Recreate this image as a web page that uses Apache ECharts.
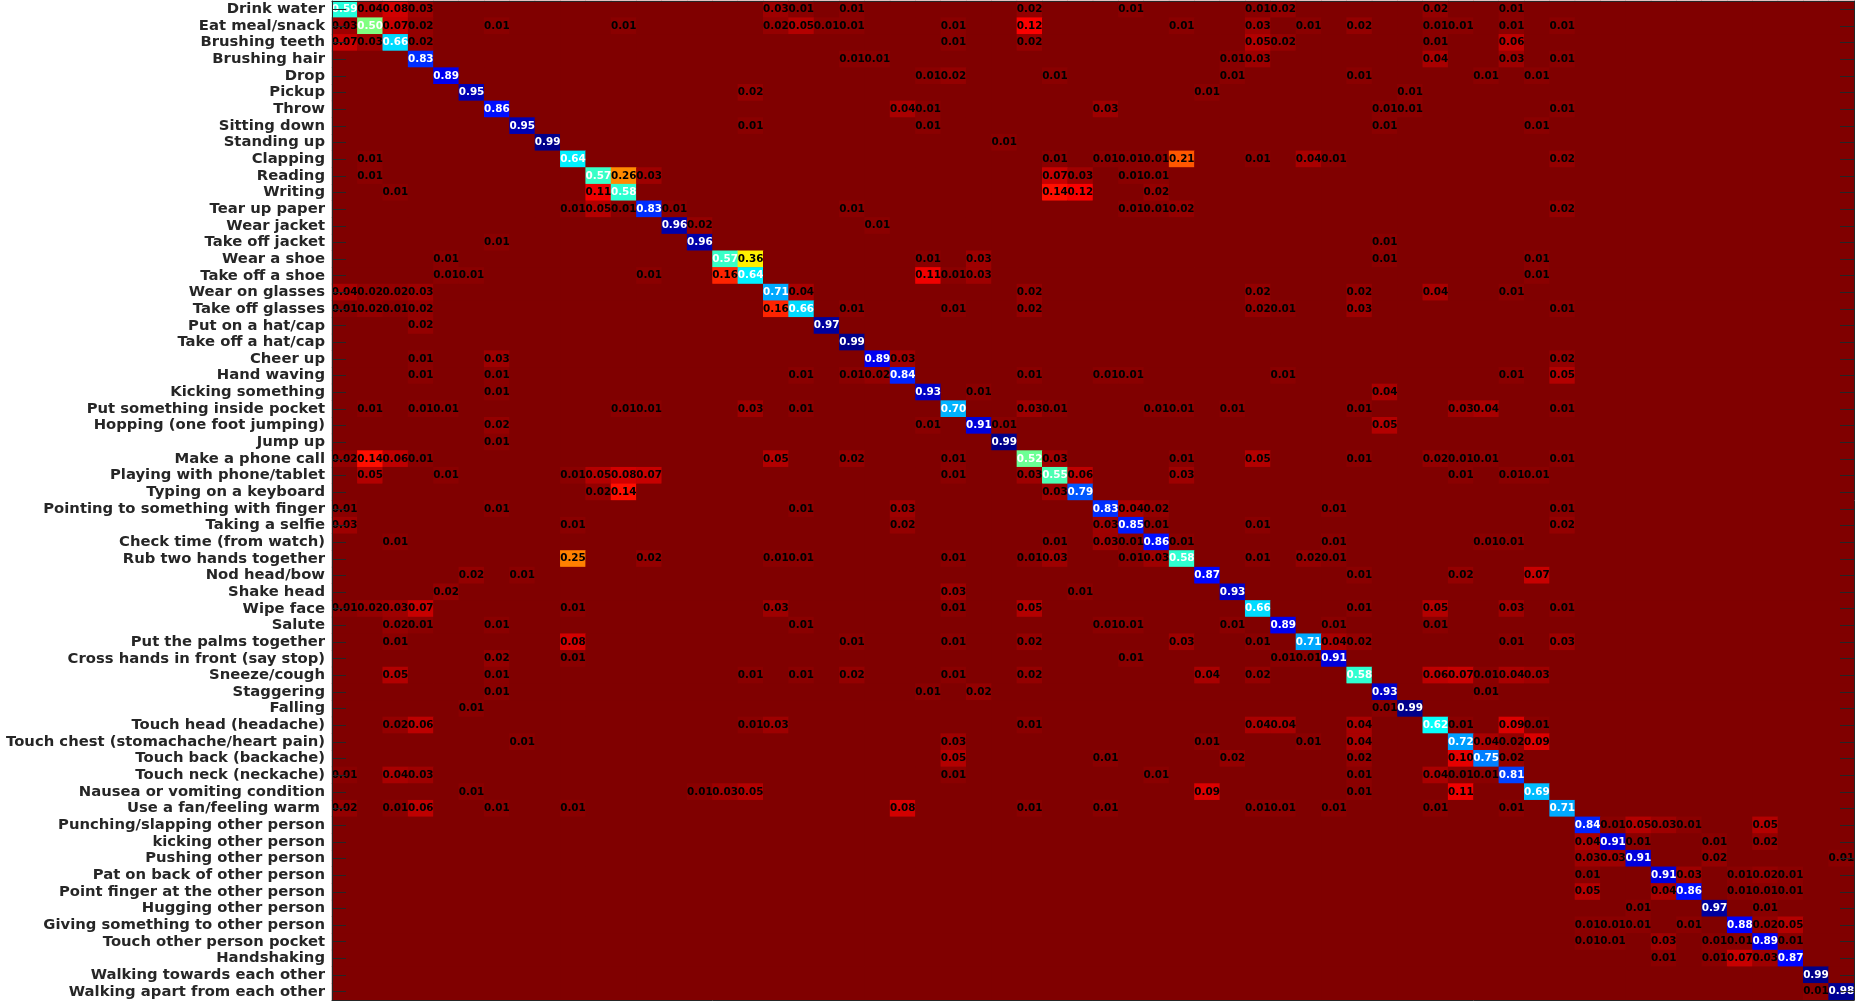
<!DOCTYPE html>
<html>
<head>
<meta charset="utf-8">
<title>Confusion matrix</title>
<script src="https://cdn.jsdelivr.net/npm/echarts@6/dist/echarts.min.js"></script>
<style>
  html, body { margin: 0; padding: 0; background: #fff; }
  #chart { width: 1855px; height: 1001px; }
</style>
</head>
<body>
<div id="chart"></div>
<script>
// class names, top to bottom (also the column order)
const classNames = [
  'Drink water', 'Eat meal/snack', 'Brushing teeth', 'Brushing hair', 'Drop', 'Pickup', 'Throw',
  'Sitting down', 'Standing up', 'Clapping', 'Reading', 'Writing', 'Tear up paper', 'Wear jacket',
  'Take off jacket', 'Wear a shoe', 'Take off a shoe', 'Wear on glasses', 'Take off glasses',
  'Put on a hat/cap', 'Take off a hat/cap', 'Cheer up', 'Hand waving', 'Kicking something',
  'Put something inside pocket', 'Hopping (one foot jumping)', 'Jump up', 'Make a phone call',
  'Playing with phone/tablet', 'Typing on a keyboard', 'Pointing to something with finger',
  'Taking a selfie', 'Check time (from watch)', 'Rub two hands together', 'Nod head/bow',
  'Shake head', 'Wipe face', 'Salute', 'Put the palms together', 'Cross hands in front (say stop)',
  'Sneeze/cough', 'Staggering', 'Falling', 'Touch head (headache)',
  'Touch chest (stomachache/heart pain)', 'Touch back (backache)', 'Touch neck (neckache)',
  'Nausea or vomiting condition', 'Use a fan/feeling warm ', 'Punching/slapping other person',
  'kicking other person', 'Pushing other person', 'Pat on back of other person',
  'Point finger at the other person', 'Hugging other person', 'Giving something to other person',
  'Touch other person pocket', 'Handshaking', 'Walking towards each other', 'Walking apart from each other'
];

// correct-class rates (diagonal)
const diagonal = [
  0.59, 0.50, 0.66, 0.83, 0.89, 0.95, 0.86, 0.95, 0.99, 0.64,
  0.57, 0.58, 0.83, 0.96, 0.96, 0.57, 0.64, 0.71, 0.66, 0.97,
  0.99, 0.89, 0.84, 0.93, 0.70, 0.91, 0.99, 0.52, 0.55, 0.79,
  0.83, 0.85, 0.86, 0.58, 0.87, 0.93, 0.66, 0.89, 0.71, 0.91,
  0.58, 0.93, 0.99, 0.62, 0.72, 0.75, 0.81, 0.69, 0.71, 0.84,
  0.91, 0.91, 0.91, 0.86, 0.97, 0.88, 0.89, 0.87, 0.99, 0.98
];

// confusions: [row (true), col (predicted), rate]
const offDiagonal = [
  [0,1,.04],[0,2,.08],[0,3,.03],[0,17,.03],[0,18,.01],[0,20,.01],[0,27,.02],[0,31,.01],[0,36,.01],[0,37,.02],[0,43,.02],[0,46,.01],
  [1,0,.03],[1,2,.07],[1,3,.02],[1,6,.01],[1,11,.01],[1,17,.02],[1,18,.05],[1,19,.01],[1,20,.01],[1,24,.01],[1,27,.12],[1,33,.01],[1,36,.03],[1,38,.01],[1,40,.02],[1,43,.01],[1,44,.01],[1,46,.01],[1,48,.01],
  [2,0,.07],[2,1,.03],[2,3,.02],[2,24,.01],[2,27,.02],[2,36,.05],[2,37,.02],[2,43,.01],[2,46,.06],
  [3,20,.01],[3,21,.01],[3,35,.01],[3,36,.03],[3,43,.04],[3,46,.03],[3,48,.01],
  [4,23,.01],[4,24,.02],[4,28,.01],[4,35,.01],[4,40,.01],[4,45,.01],[4,47,.01],
  [5,16,.02],[5,34,.01],[5,42,.01],
  [6,22,.04],[6,23,.01],[6,30,.03],[6,41,.01],[6,42,.01],[6,48,.01],
  [7,16,.01],[7,23,.01],[7,41,.01],[7,47,.01],
  [8,26,.01],
  [9,1,.01],[9,28,.01],[9,30,.01],[9,31,.01],[9,32,.01],[9,33,.21],[9,36,.01],[9,38,.04],[9,39,.01],[9,48,.02],
  [10,1,.01],[10,11,.26],[10,12,.03],[10,28,.07],[10,29,.03],[10,31,.01],[10,32,.01],
  [11,2,.01],[11,10,.11],[11,28,.14],[11,29,.12],[11,32,.02],
  [12,9,.01],[12,10,.05],[12,11,.01],[12,13,.01],[12,20,.01],[12,31,.01],[12,32,.01],[12,33,.02],[12,48,.02],
  [13,14,.02],[13,21,.01],
  [14,6,.01],[14,41,.01],
  [15,4,.01],[15,16,.36],[15,23,.01],[15,25,.03],[15,41,.01],[15,47,.01],
  [16,4,.01],[16,5,.01],[16,12,.01],[16,15,.16],[16,23,.11],[16,24,.01],[16,25,.03],[16,47,.01],
  [17,0,.04],[17,1,.02],[17,2,.02],[17,3,.03],[17,18,.04],[17,27,.02],[17,36,.02],[17,40,.02],[17,43,.04],[17,46,.01],
  [18,0,.01],[18,1,.02],[18,2,.01],[18,3,.02],[18,17,.16],[18,20,.01],[18,24,.01],[18,27,.02],[18,36,.02],[18,37,.01],[18,40,.03],[18,48,.01],
  [19,3,.02],
  [21,3,.01],[21,6,.03],[21,22,.03],[21,48,.02],
  [22,3,.01],[22,6,.01],[22,18,.01],[22,20,.01],[22,21,.02],[22,27,.01],[22,30,.01],[22,31,.01],[22,37,.01],[22,46,.01],[22,48,.05],
  [23,6,.01],[23,25,.01],[23,41,.04],
  [24,1,.01],[24,3,.01],[24,4,.01],[24,11,.01],[24,12,.01],[24,16,.03],[24,18,.01],[24,27,.03],[24,28,.01],[24,32,.01],[24,33,.01],[24,35,.01],[24,40,.01],[24,44,.03],[24,45,.04],[24,48,.01],
  [25,6,.02],[25,23,.01],[25,26,.01],[25,41,.05],
  [26,6,.01],
  [27,0,.02],[27,1,.14],[27,2,.06],[27,3,.01],[27,17,.05],[27,20,.02],[27,24,.01],[27,28,.03],[27,33,.01],[27,36,.05],[27,40,.01],[27,43,.02],[27,44,.01],[27,45,.01],[27,48,.01],
  [28,1,.05],[28,4,.01],[28,9,.01],[28,10,.05],[28,11,.08],[28,12,.07],[28,24,.01],[28,27,.03],[28,29,.06],[28,33,.03],[28,44,.01],[28,46,.01],[28,47,.01],
  [29,10,.02],[29,11,.14],[29,28,.03],
  [30,0,.01],[30,6,.01],[30,18,.01],[30,22,.03],[30,31,.04],[30,32,.02],[30,39,.01],[30,48,.01],
  [31,0,.03],[31,9,.01],[31,22,.02],[31,30,.03],[31,32,.01],[31,36,.01],[31,48,.02],
  [32,2,.01],[32,28,.01],[32,30,.03],[32,31,.01],[32,33,.01],[32,39,.01],[32,45,.01],[32,46,.01],
  [33,9,.25],[33,12,.02],[33,17,.01],[33,18,.01],[33,24,.01],[33,27,.01],[33,28,.03],[33,31,.01],[33,32,.03],[33,36,.01],[33,38,.02],[33,39,.01],
  [34,5,.02],[34,7,.01],[34,40,.01],[34,44,.02],[34,47,.07],
  [35,4,.02],[35,24,.03],[35,29,.01],
  [36,0,.01],[36,1,.02],[36,2,.03],[36,3,.07],[36,9,.01],[36,17,.03],[36,24,.01],[36,27,.05],[36,40,.01],[36,43,.05],[36,46,.03],[36,48,.01],
  [37,2,.02],[37,3,.01],[37,6,.01],[37,18,.01],[37,30,.01],[37,31,.01],[37,35,.01],[37,39,.01],[37,43,.01],
  [38,2,.01],[38,9,.08],[38,20,.01],[38,24,.01],[38,27,.02],[38,33,.03],[38,36,.01],[38,39,.04],[38,40,.02],[38,46,.01],[38,48,.03],
  [39,6,.02],[39,9,.01],[39,31,.01],[39,37,.01],[39,38,.01],
  [40,2,.05],[40,6,.01],[40,16,.01],[40,18,.01],[40,20,.02],[40,24,.01],[40,27,.02],[40,34,.04],[40,36,.02],[40,43,.06],[40,44,.07],[40,45,.01],[40,46,.04],[40,47,.03],
  [41,6,.01],[41,23,.01],[41,25,.02],[41,45,.01],
  [42,5,.01],[42,41,.01],
  [43,2,.02],[43,3,.06],[43,16,.01],[43,17,.03],[43,27,.01],[43,36,.04],[43,37,.04],[43,40,.04],[43,44,.01],[43,46,.09],[43,47,.01],
  [44,7,.01],[44,24,.03],[44,34,.01],[44,38,.01],[44,40,.04],[44,45,.04],[44,46,.02],[44,47,.09],
  [45,24,.05],[45,30,.01],[45,35,.02],[45,40,.02],[45,44,.10],[45,46,.02],
  [46,0,.01],[46,2,.04],[46,3,.03],[46,24,.01],[46,32,.01],[46,40,.01],[46,43,.04],[46,44,.01],[46,45,.01],
  [47,5,.01],[47,14,.01],[47,15,.03],[47,16,.05],[47,34,.09],[47,40,.01],[47,44,.11],
  [48,0,.02],[48,2,.01],[48,3,.06],[48,6,.01],[48,9,.01],[48,22,.08],[48,27,.01],[48,30,.01],[48,36,.01],[48,37,.01],[48,39,.01],[48,43,.01],[48,46,.01],
  [49,50,.01],[49,51,.05],[49,52,.03],[49,53,.01],[49,56,.05],
  [50,49,.04],[50,51,.01],[50,54,.01],[50,56,.02],
  [51,49,.03],[51,50,.03],[51,54,.02],[51,59,.01],
  [52,49,.01],[52,53,.03],[52,55,.01],[52,56,.02],[52,57,.01],
  [53,49,.05],[53,52,.04],[53,55,.01],[53,56,.01],[53,57,.01],
  [54,51,.01],[54,56,.01],
  [55,49,.01],[55,50,.01],[55,51,.01],[55,53,.01],[55,56,.02],[55,57,.05],
  [56,49,.01],[56,50,.01],[56,52,.03],[56,54,.01],[56,55,.01],[56,57,.01],
  [57,52,.01],[57,54,.01],[57,55,.07],[57,56,.03],
  [59,58,.01]
];

// reversed jet colormap, low -> high
const jetReversed = ['#800000', '#ff0000', '#ff8000', '#ffff00', '#80ff80', '#00ffff', '#0080ff', '#0000ff', '#000080'];

const n = classNames.length;
let matrix = [];
for (let r = 0; r < n; r++) {
  matrix.push(new Array(n).fill(0));
  matrix[r][r] = diagonal[r];
}
offDiagonal.forEach(function (d) {
  matrix[d[0]][d[1]] = d[2];
});

let cells = [];
for (let r = 0; r < n; r++) {
  for (let c = 0; c < n; c++) {
    cells.push([c, r, matrix[r][c]]);
  }
}

const axisColor = '#262626';
const cellFont = { fontFamily: 'DejaVu Sans', fontWeight: 'bold', fontSize: 10.4 };

let chart = echarts.init(document.getElementById('chart'));
chart.setOption({
  animation: false,
  // grid background = colour of a zero cell, so sub-pixel seams between cells do not show
  grid: { left: 332, right: 1, top: 1, bottom: 1, show: true, backgroundColor: '#800000', borderWidth: 0 },
  xAxis: [
    {
      type: 'category',
      data: classNames,
      position: 'bottom',
      z: 10,
      axisLine: { show: true, lineStyle: { color: axisColor, width: 1 } },
      axisTick: { show: false },
      axisLabel: { show: false },
      splitLine: { show: false }
    },
    {
      type: 'category',
      data: classNames,
      position: 'top',
      z: 10,
      axisLine: { show: true, lineStyle: { color: axisColor, width: 1 } },
      axisTick: { show: false },
      axisLabel: { show: false }
    }
  ],
  yAxis: [
    {
      type: 'category',
      data: classNames,
      inverse: true,
      position: 'left',
      z: 10,
      axisLine: { show: true, lineStyle: { color: axisColor, width: 1 } },
      axisTick: { show: true, inside: true, length: 14, alignWithLabel: true, interval: 0, lineStyle: { color: axisColor } },
      axisLabel: {
        interval: 0,
        margin: 7,
        color: axisColor,
        fontFamily: 'DejaVu Sans',
        fontWeight: 'bold',
        fontSize: 14.8
      },
      splitLine: { show: false }
    },
    {
      type: 'category',
      data: classNames,
      inverse: true,
      position: 'right',
      z: 10,
      axisLine: { show: true, lineStyle: { color: axisColor, width: 1 } },
      axisTick: { show: true, inside: true, length: 14, alignWithLabel: true, interval: 0, lineStyle: { color: axisColor } },
      axisLabel: { show: false }
    }
  ],
  visualMap: {
    show: false,
    type: 'continuous',
    min: 0,
    max: 1,
    dimension: 2,
    inRange: { color: jetReversed }
  },
  series: [{
    type: 'heatmap',
    data: cells,
    xAxisIndex: 0,
    yAxisIndex: 0,
    emphasis: { disabled: true },
    label: {
      show: true,
      formatter: function (p) {
        let v = p.value[2];
        if (!v) return '';
        return (v > 0.4 ? '{w|' : '{k|') + v.toFixed(2) + '}';
      },
      rich: {
        w: Object.assign({ color: '#ffffff' }, cellFont),
        k: Object.assign({ color: '#000000' }, cellFont)
      }
    }
  }]
});
</script>
</body>
</html>
